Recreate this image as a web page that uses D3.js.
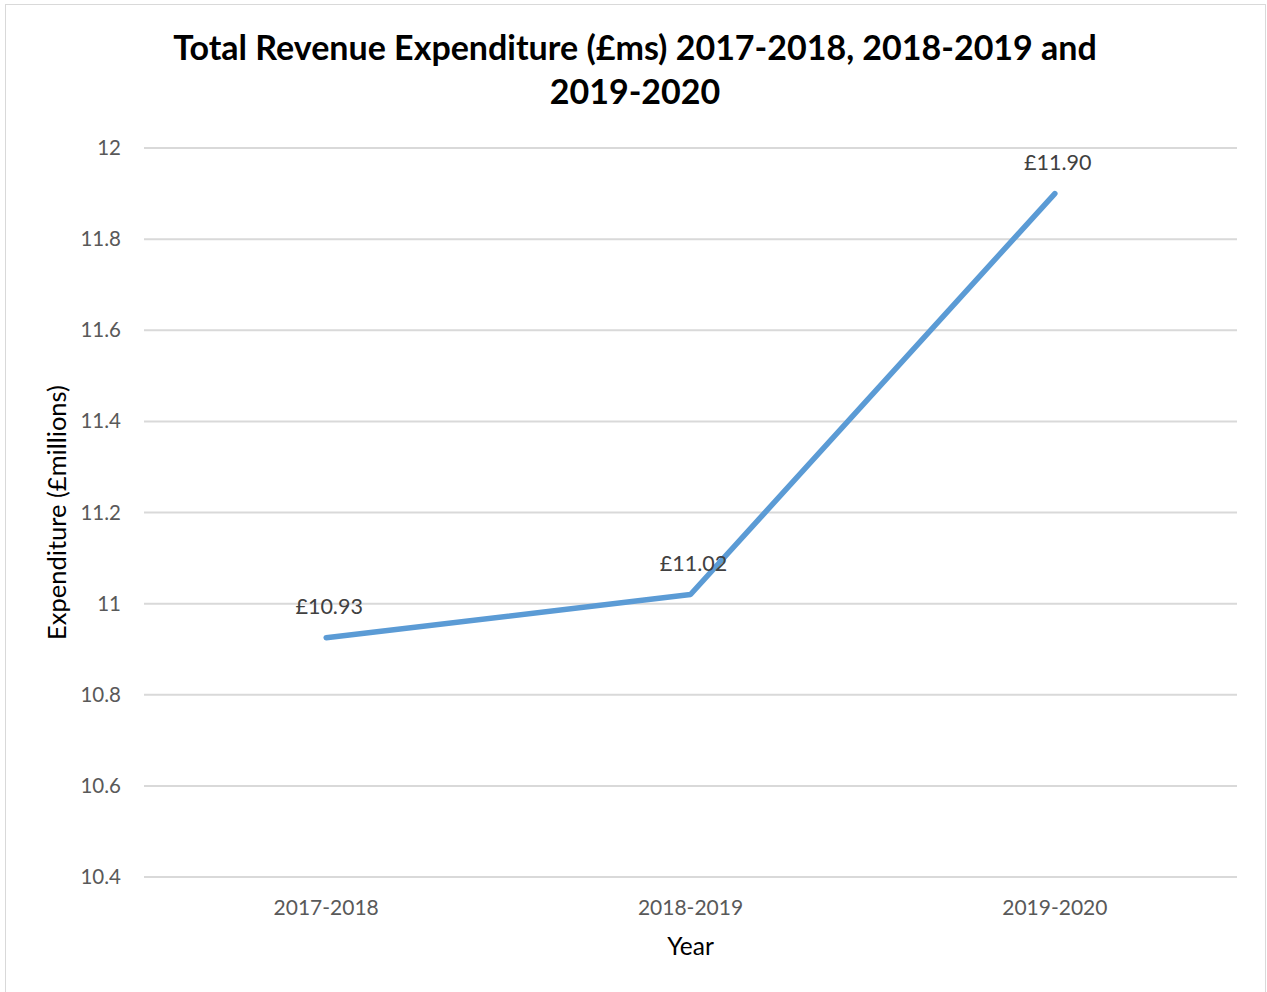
<!DOCTYPE html>
<html><head><meta charset="utf-8">
<script src="https://cdn.jsdelivr.net/npm/d3@7"></script>
<style>body{margin:0;background:#fff;}svg{display:block;}text{font-family:Lato,"Open Sans",sans-serif;}</style>
</head><body>
<svg id="c" width="1267" height="992"></svg>
<script>
const categories = ["2017-2018", "2018-2019", "2019-2020"];
const values = [10.925, 11.02, 11.9];
const valueLabels = ["£10.93", "£11.02", "£11.90"];
const yTicks = [10.4, 10.6, 10.8, 11, 11.2, 11.4, 11.6, 11.8, 12];
const titleLines = ["Total Revenue Expenditure (£ms) 2017-2018, 2018-2019 and", "2019-2020"];
const xTitle = "Year";
const yTitle = "Expenditure (£millions)";

const svg = d3.select("#c");
svg.append("rect").attr("x",5.5).attr("y",4.5).attr("width",1260).attr("height",1000)
  .attr("fill","#fff").attr("stroke","#d9d9d9").attr("stroke-width",1);

const L=144, R=1237, T=148, B=877;
const x = d3.scaleBand().domain(categories).range([L,R]);
const y = d3.scaleLinear().domain([10.4,12]).range([B,T]);

svg.append("g").selectAll("line").data(yTicks).join("line")
  .attr("x1",L).attr("x2",R).attr("y1",d=>y(d)).attr("y2",d=>y(d))
  .attr("stroke","#d9d9d9").attr("stroke-width",2);

const yAxis = d3.axisLeft(y).tickValues(yTicks).tickSize(0).tickPadding(0).tickFormat(d=>d3.format("")(d));
const gy = svg.append("g").attr("transform",`translate(${L-23},0)`).call(yAxis);
gy.select(".domain").remove();
gy.selectAll("text").attr("font-size",20.5).attr("fill","#595959").attr("dy","0.32em").style("font-family","Lato,'Open Sans',sans-serif");

const xAxis = d3.axisBottom(x).tickSize(0).tickPadding(0);
const gx = svg.append("g").attr("transform",`translate(0,${B+23})`).call(xAxis);
gx.select(".domain").remove();
gx.selectAll("text").attr("font-size",21).attr("fill","#595959").attr("dy","0.71em").style("font-family","Lato,'Open Sans',sans-serif");

const line = d3.line().x((d,i)=>x(categories[i])+x.bandwidth()/2).y(d=>y(d));
svg.append("path").datum(values).attr("d",line).attr("fill","none")
  .attr("stroke","#5b9bd5").attr("stroke-width",5.5).attr("stroke-linecap","round").attr("stroke-linejoin","round");

svg.append("g").selectAll("text").data(values).join("text")
  .attr("x",(d,i)=>x(categories[i])+x.bandwidth()/2+3).attr("y",d=>y(d)-24)
  .attr("text-anchor","middle").attr("font-size",21.5).attr("fill","#404040")
  .text((d,i)=>valueLabels[i]);

svg.append("g").selectAll("text").data(titleLines).join("text")
  .attr("x",635).attr("y",(d,i)=>60+i*44).attr("text-anchor","middle")
  .attr("font-size",34).attr("font-weight","bold").attr("fill","#000").text(d=>d);

svg.append("text").attr("x",(L+R)/2).attr("y",955).attr("text-anchor","middle")
  .attr("font-size",24.5).attr("fill","#000").text(xTitle);
svg.append("text").attr("transform",`translate(66,${(T+B)/2}) rotate(-90)`).attr("text-anchor","middle")
  .attr("font-size",25.5).attr("fill","#000").text(yTitle);
</script>
</body></html>
